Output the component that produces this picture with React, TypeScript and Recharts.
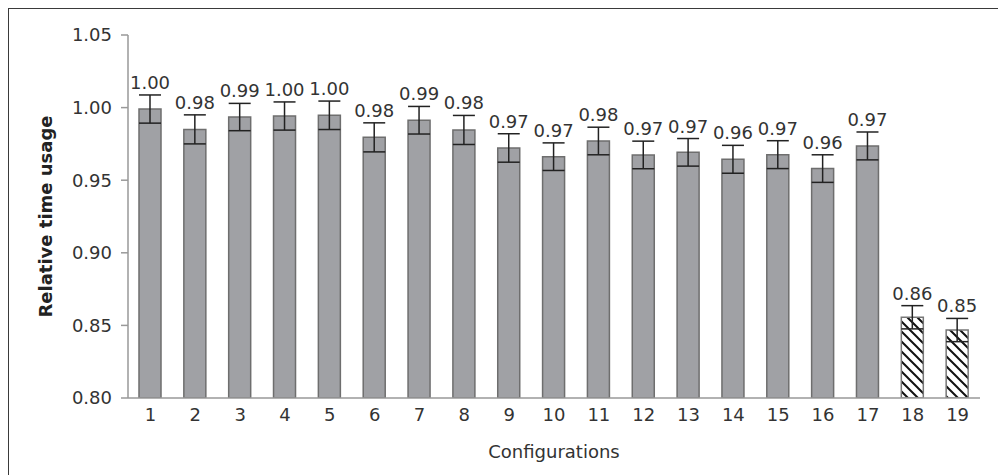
import React from 'react';
import { BarChart, Bar, XAxis, YAxis, ErrorBar, LabelList, Cell } from 'recharts';

const categories = ['1', '2', '3', '4', '5', '6', '7', '8', '9', '10', '11', '12', '13', '14', '15', '16', '17', '18', '19'];
const values = [0.999, 0.985, 0.9935, 0.9942, 0.9947, 0.9795, 0.9913, 0.9846, 0.9722, 0.9662, 0.977, 0.9674, 0.9692, 0.9644, 0.9676, 0.958, 0.9736, 0.8556, 0.8468];
const errors = [0.0097, 0.01, 0.0094, 0.0097, 0.0098, 0.01, 0.0095, 0.01, 0.0098, 0.0095, 0.0095, 0.0095, 0.0095, 0.0096, 0.0096, 0.0095, 0.0096, 0.008, 0.008];
const labels = ['1.00', '0.98', '0.99', '1.00', '1.00', '0.98', '0.99', '0.98', '0.97', '0.97', '0.98', '0.97', '0.97', '0.96', '0.97', '0.96', '0.97', '0.86', '0.85'];
const hatched = [false, false, false, false, false, false, false, false, false, false, false, false, false, false, false, false, false, true, true];
const yTicks = [0.8, 0.85, 0.9, 0.95, 1.0, 1.05];

const data = categories.map((c, i) => ({ name: c, value: values[i], err: errors[i] }));

const FONT = '"DejaVu Sans", sans-serif';
const DOMAIN_MIN = 0.8;

const renderLabel = (props: any) => {
  const { x, y, width, height, index } = props;
  const v = values[index];
  const pxPerUnit = Number(height) / (v - DOMAIN_MIN);
  const errPx = errors[index] * pxPerUnit;
  return (
    <text
      x={Number(x) + Number(width) / 2}
      y={Number(y) - errPx - 6}
      textAnchor="middle"
      fontSize={18}
      fill="#333"
      fontFamily={FONT}
    >
      {labels[index]}
    </text>
  );
};

export default function App() {
  return (
    <div style={{ position: 'relative', width: 998, height: 467 }}>
      <div
        style={{
          position: 'absolute',
          left: -1,
          top: -1,
          width: 999,
          height: 480,
          boxSizing: 'border-box',
          border: '2px solid #3a3a3a',
        }}
      />
      <div style={{ position: 'absolute', left: 0, top: 0 }}>
        <BarChart
          width={998}
          height={467}
          data={data}
          margin={{ top: 27, right: 26, bottom: 27, left: 0 }}
        >
          <defs>
            <pattern id="hatch" patternUnits="userSpaceOnUse" width="10" height="10">
              <rect width="10" height="10" fill="#fff" />
              <path d="M0,0 L10,10 M-2,8 L2,12 M8,-2 L12,2" stroke="#111" strokeWidth="2" />
            </pattern>
          </defs>
          <XAxis
            dataKey="name"
            tickLine={false}
            tickSize={6}
            tickMargin={4}
            axisLine={{ stroke: '#999', strokeWidth: 1.5 }}
            tick={{ fill: '#333', fontSize: 18, fontFamily: FONT }}
            interval={0}
            height={50}
            label={{
              content: (p: any) => {
                const vb = p.viewBox || {};
                return (
                  <text
                    x={vb.x + vb.width / 2}
                    y={vb.y + 60}
                    textAnchor="middle"
                    fontSize={18}
                    fill="#333"
                    fontFamily={FONT}
                  >
                    Configurations
                  </text>
                );
              },
            }}
          />
          <YAxis
            domain={[0.8, 1.05]}
            ticks={yTicks}
            allowDataOverflow
            width={120}
            tickSize={7}
            tickMargin={9}
            tickFormatter={(v: number) => v.toFixed(2)}
            tick={{ fill: '#333', fontSize: 18, fontFamily: FONT }}
            axisLine={{ stroke: '#999', strokeWidth: 1.5 }}
            tickLine={{ stroke: '#999', strokeWidth: 1.5 }}
            label={{
              content: (p: any) => {
                const vb = p.viewBox || {};
                const cx = 44;
                const cy = vb.y + vb.height / 2;
                return (
                  <text
                    x={cx}
                    y={cy}
                    transform={`rotate(-90 ${cx} ${cy})`}
                    textAnchor="middle"
                    fontSize={18}
                    fontWeight="bold"
                    fill="#222"
                    fontFamily={FONT}
                  >
                    Relative time usage
                  </text>
                );
              },
            }}
          />
          <Bar dataKey="value" barSize={22} fill="#a0a1a5" stroke="#6e6e6e" strokeWidth={1.5} isAnimationActive={false}>
            {data.map((d, i) => (
              <Cell key={d.name} fill={hatched[i] ? 'url(#hatch)' : '#a0a1a5'} stroke={hatched[i] ? '#777' : '#6e6e6e'} />
            ))}
            <ErrorBar dataKey="err" width={11} stroke="#222" strokeWidth={1.5} isAnimationActive={false} />
            <LabelList dataKey="value" content={renderLabel} />
          </Bar>
        </BarChart>
      </div>
    </div>
  );
}
